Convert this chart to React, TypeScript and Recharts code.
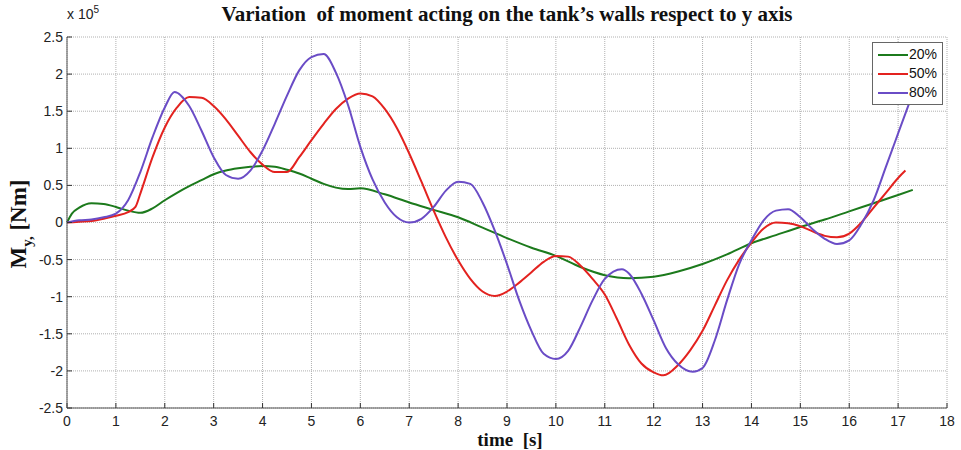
import React from 'react';
import { LineChart, Line, XAxis, YAxis, CartesianGrid } from 'recharts';

// time [s] and moment [x 1e5 Nm] per fill level
const time20 = [
  0, 0.1, 0.25, 0.5, 0.75, 1, 1.25, 1.5, 1.75, 2, 2.25, 2.5, 2.75, 3, 3.25, 3.5, 3.75, 4, 4.25, 4.5, 4.75, 5,
  5.25, 5.5, 5.75, 6, 6.5, 7, 7.5, 8, 8.5, 9, 9.5, 10, 10.5, 11, 11.5, 12, 12.5, 13, 13.5, 14, 14.5, 15, 15.5,
  16, 16.5, 17, 17.3,
];
const moment20 = [
  0, 0.12, 0.2, 0.26, 0.25, 0.21, 0.16, 0.13, 0.19, 0.3, 0.4, 0.49, 0.57, 0.65, 0.7, 0.73, 0.75, 0.76, 0.75, 0.71,
  0.66, 0.59, 0.52, 0.47, 0.45, 0.46, 0.38, 0.27, 0.17, 0.07, -0.07, -0.21, -0.34, -0.45, -0.6, -0.71, -0.75,
  -0.73, -0.66, -0.56, -0.43, -0.28, -0.17, -0.06, 0.04, 0.15, 0.26, 0.37, 0.44,
];

const time50 = [
  0, 0.25, 0.5, 0.75, 1, 1.25, 1.4, 1.5, 1.75, 2, 2.25, 2.5, 2.75, 3, 3.25, 3.5, 3.75, 4, 4.25, 4.5, 4.75, 5, 5.25,
  5.5, 5.75, 6, 6.25, 6.5, 6.75, 7, 7.25, 7.5, 7.75, 8, 8.25, 8.5, 8.75, 9, 9.25, 9.5, 9.75, 10, 10.25, 10.5,
  10.75, 11, 11.25, 11.5, 11.75, 12, 12.2, 12.5, 12.75, 13, 13.25, 13.5, 13.75, 14, 14.25, 14.5, 14.75, 15, 15.25,
  15.5, 15.75, 16, 16.25, 16.5, 16.75, 17, 17.15,
];
const moment50 = [
  0, 0.01, 0.02, 0.05, 0.09, 0.14, 0.21, 0.39, 0.88, 1.28, 1.55, 1.69, 1.68, 1.57, 1.39, 1.17, 0.95, 0.78, 0.68,
  0.68, 0.88, 1.11, 1.33, 1.53, 1.67, 1.74, 1.7, 1.53, 1.27, 0.93, 0.55, 0.16, -0.2, -0.51, -0.76, -0.93, -0.99,
  -0.93, -0.81, -0.67, -0.53, -0.45, -0.46, -0.58, -0.76, -0.97, -1.3, -1.65, -1.9, -2.02, -2.06, -1.92, -1.72,
  -1.46, -1.12, -0.78, -0.5, -0.27, -0.08, 0, -0.01, -0.05, -0.12, -0.18, -0.2, -0.15, 0, 0.2, 0.4, 0.6, 0.7,
];

const time80 = [
  0, 0.25, 0.5, 0.75, 1, 1.25, 1.5, 1.75, 2, 2.2, 2.5, 2.75, 3, 3.25, 3.5, 3.75, 4, 4.25, 4.5, 4.75, 5, 5.25, 5.5,
  5.75, 6, 6.25, 6.5, 6.75, 7, 7.25, 7.5, 7.75, 8, 8.25, 8.5, 8.75, 9, 9.25, 9.5, 9.75, 10, 10.25, 10.5, 10.75, 11,
  11.35, 11.5, 11.75, 12, 12.25, 12.5, 12.8, 13, 13.25, 13.5, 13.75, 14, 14.25, 14.5, 14.75, 15, 15.25, 15.5, 15.75,
  16, 16.25, 16.5, 16.75, 17, 17.25,
];
const moment80 = [
  0, 0.03, 0.04, 0.07, 0.12, 0.3, 0.68, 1.15, 1.55, 1.76, 1.57, 1.24, 0.88, 0.64, 0.59, 0.7, 0.97, 1.33, 1.71,
  2.05, 2.23, 2.27, 2.02, 1.58, 1.02, 0.58, 0.27, 0.07, 0, 0.05, 0.21, 0.43, 0.55, 0.52, 0.27, -0.11, -0.56,
  -1.05, -1.46, -1.77, -1.84, -1.73, -1.41, -1.05, -0.76, -0.63, -0.69, -0.96, -1.32, -1.69, -1.91, -2.01, -1.96,
  -1.59, -1.05, -0.56, -0.24, 0.03, 0.16, 0.18, 0.07, -0.09, -0.22, -0.29, -0.24, -0.02, 0.3, 0.75, 1.2, 1.65,
];

const xTicks = [0, 1, 2, 3, 4, 5, 6, 7, 8, 9, 10, 11, 12, 13, 14, 15, 16, 17, 18];
const yTicks = [-2.5, -2, -1.5, -1, -0.5, 0, 0.5, 1, 1.5, 2, 2.5];

const series = [
  { name: '20%', color: '#1c7a1c', t: time20, v: moment20 },
  { name: '50%', color: '#e3221f', t: time50, v: moment50 },
  { name: '80%', color: '#6a4cc6', t: time80, v: moment80 },
];

const toPoints = (t: number[], v: number[]) => t.map((x, i) => ({ time: x, moment: v[i] }));

const sans = 'Liberation Sans, Arial, sans-serif';
const serif = 'Liberation Serif, Times New Roman, serif';
const tickStyle = { fontSize: 14, fill: '#222', fontFamily: sans };

function LegendBox() {
  return (
    <div
      style={{
        position: 'absolute',
        left: 872,
        top: 42,
        width: 71,
        height: 63,
        boxSizing: 'border-box',
        background: '#fff',
        border: '1px solid #666',
        padding: '2px 0 0 5px',
        fontFamily: sans,
        fontSize: 14,
        color: '#111',
        lineHeight: '19px',
      }}
    >
      {series.map((s) => (
        <div key={s.name} style={{ display: 'flex', alignItems: 'center' }}>
          <span style={{ display: 'inline-block', width: 30, height: 2, background: s.color, marginRight: 1 }} />
          {s.name}
        </div>
      ))}
    </div>
  );
}

export default function App() {
  return (
    <div style={{ position: 'absolute', left: 0, top: 0, width: 961, height: 450, background: '#fff' }}>
      <div
        style={{
          position: 'absolute',
          left: 0,
          width: 1014,
          top: 2,
          textAlign: 'center',
          fontFamily: serif,
          fontWeight: 'bold',
          fontSize: 21,
          color: '#111',
        }}
      >
        Variation&nbsp; of moment acting on the tank’s walls respect to y axis
      </div>
      <div style={{ position: 'absolute', left: 67, top: 6, fontFamily: sans, fontSize: 14, color: '#222' }}>
        x 10<sup style={{ fontSize: 10, verticalAlign: 'super', lineHeight: 0 }}>5</sup>
      </div>
      <LineChart width={961} height={450} margin={{ top: 37, right: 14, bottom: 12, left: 0 }}>
        <CartesianGrid stroke="#b0b0b0" strokeDasharray="1 1" />
        <XAxis
          dataKey="time"
          type="number"
          domain={[0, 18]}
          ticks={xTicks}
          height={30}
          allowDuplicatedCategory={false}
          tick={tickStyle}
          tickSize={-5}
          tickMargin={13}
          stroke="#555"
          tickLine={{ stroke: '#333' }}
        />
        <XAxis
          xAxisId="top"
          orientation="top"
          type="number"
          domain={[0, 18]}
          ticks={xTicks}
          height={0}
          tick={false}
          tickSize={-5}
          stroke="#555"
          tickLine={{ stroke: '#333' }}
        />
        <YAxis
          type="number"
          domain={[-2.5, 2.5]}
          ticks={yTicks}
          width={67}
          tick={tickStyle}
          tickSize={-5}
          tickMargin={9}
          stroke="#555"
          tickLine={{ stroke: '#333' }}
          tickFormatter={(v: number) => String(v)}
        />
        <YAxis
          yAxisId="right"
          orientation="right"
          type="number"
          domain={[-2.5, 2.5]}
          ticks={yTicks}
          width={0}
          tick={false}
          tickSize={-5}
          stroke="#555"
          tickLine={{ stroke: '#333' }}
        />
        {series.map((s) => (
          <Line
            key={s.name}
            data={toPoints(s.t, s.v)}
            dataKey="moment"
            name={s.name}
            type="monotone"
            stroke={s.color}
            strokeWidth={2}
            dot={false}
            isAnimationActive={false}
          />
        ))}
      </LineChart>
      <LegendBox />
      <div
        style={{
          position: 'absolute',
          left: 410,
          width: 200,
          top: 430,
          textAlign: 'center',
          fontFamily: serif,
          fontWeight: 'bold',
          fontSize: 19,
          lineHeight: '19px',
          color: '#111',
        }}
      >
        time&nbsp; [s]
      </div>
      <div
        style={{
          position: 'absolute',
          left: 19,
          top: 224,
          transform: 'translate(-50%, -50%) rotate(-90deg)',
          whiteSpace: 'nowrap',
          fontFamily: serif,
          fontWeight: 'bold',
          fontSize: 23,
          color: '#111',
        }}
      >
        M<sub style={{ fontSize: 15, verticalAlign: 'sub', lineHeight: 0 }}>y,</sub> [Nm]
      </div>
    </div>
  );
}
